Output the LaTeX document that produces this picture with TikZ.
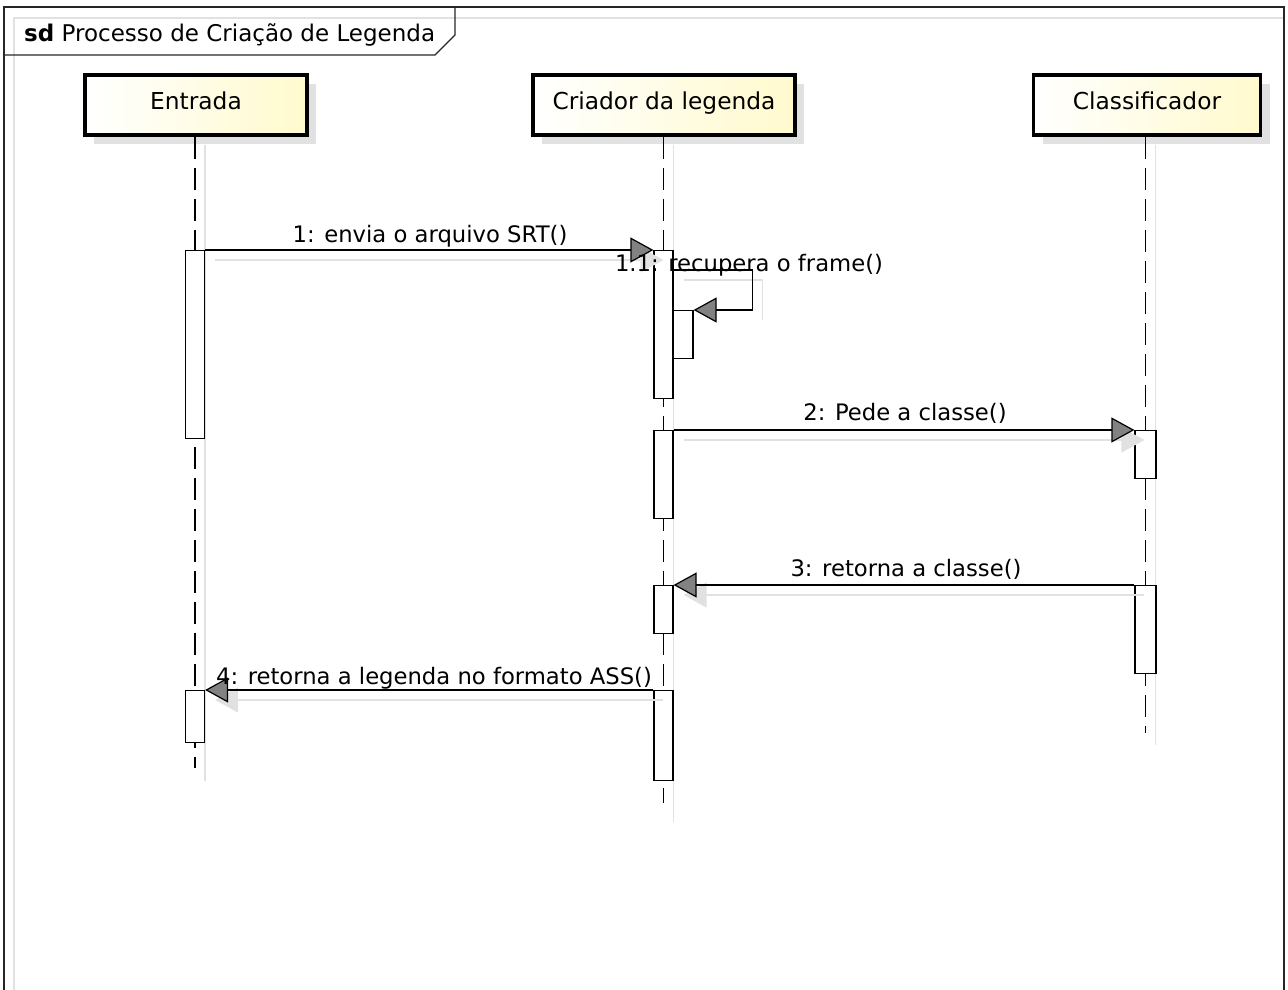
\documentclass[tikz,border=0pt]{standalone}
\usepackage{fontspec}
\setmainfont{DejaVu Sans}
\usetikzlibrary{arrows.meta,shadows,calc}
\definecolor{headfill}{RGB}{255,250,205}
\definecolor{shadowgray}{RGB}{225,225,225}
\definecolor{tipgray}{RGB}{130,130,130}
\tikzset{
  headbox/.style={draw=black, line width=3.5pt, left color=white, right color=headfill,
    minimum height=60pt, inner sep=0pt,
    drop shadow={shadow xshift=9pt, shadow yshift=-9pt, fill=shadowgray, opacity=1}},
  headtext/.style={inner sep=0pt, anchor=base, font=\fontsize{23.3}{27}\selectfont},
  actbox/.style={draw=black, line width=1.2pt, fill=white, minimum width=19pt, inner sep=0pt, anchor=north},
  lifeline/.style={draw=black, line width=1.7pt, dash pattern=on 22pt off 9pt},
  lifeshadow/.style={draw=shadowgray, line width=1.5pt},
  msg/.style={line width=1.4pt, -{Triangle[length=23pt,width=25pt,fill=tipgray,line width=1.2pt]}},
  msgshadow/.style={draw=shadowgray, line width=1.5pt, -{Triangle[length=23pt,width=25pt,fill=shadowgray,color=shadowgray]}},
  msglabel/.style={font=\fontsize{22.7}{26}\selectfont, inner sep=0pt, anchor=base}
}
\begin{document}
\begin{tikzpicture}[x=1pt,y=-1pt]
\useasboundingbox (0,0) rectangle (1288,990);
% frame
\draw[shadowgray, line width=1.5pt] (14,990) -- (14,18) -- (1284,18);
\draw[line width=1.6pt, black!85] (4,990) -- (4,7) -- (1284,7) -- (1284,990);
\draw[line width=1.4pt, black!85] (4,55) -- (435,55) -- (455,35) -- (455,7);
\node[anchor=base west, inner sep=0pt, font=\fontsize{23}{27}\selectfont] (title) at (24,42) {\textbf{sd} Processo de Criação de Legenda};

% lifeline heads
\node[headbox, minimum width=222pt] (ent) at (196,105) {};
\node[headbox, minimum width=262pt] (cri) at (664,105) {};
\node[headbox, minimum width=227pt] (cla) at (1147,105) {};
\node[headtext] (entT) at (196,109) {Entrada};
\node[headtext] (criT) at (664,109) {Criador da legenda};
\node[headtext] (claT) at (1147,109) {Classificador};

% lifeline ends
\coordinate (entEnd) at (195,768);
\coordinate (criEnd) at (663.5,803);
\coordinate (claEnd) at (1145.5,733);

% lifeline shadows
\draw[lifeshadow] (205,145) -- (205,781);
\draw[lifeshadow] (673.5,145) -- (673.5,822);
\draw[lifeshadow] (1155.5,145) -- (1155.5,745);

% lifelines
\draw[lifeline] (ent.south -| entEnd) -- (entEnd);
\draw[lifeline] (cri.south -| criEnd) -- (criEnd);
\draw[lifeline] (cla.south -| claEnd) -- (claEnd);

% activation boxes
\node[actbox, minimum height=188pt] (eA) at (195,250) {};
\node[actbox, minimum height=52pt] (eB) at (195,690) {};
\node[actbox, minimum height=148pt] (cA) at (663.5,250) {};
\node[actbox, minimum height=48pt, minimum width=20pt] (cS) at (683,310) {};
\node[actbox, minimum height=88pt] (cB) at (663.5,430) {};
\node[actbox, minimum height=48pt] (cC) at (663.5,585) {};
\node[actbox, minimum height=90pt] (cD) at (663.5,690) {};
\node[actbox, minimum height=48pt, minimum width=21pt] (kA) at (1145.5,430) {};
\node[actbox, minimum height=88pt, minimum width=21pt] (kB) at (1145.5,585) {};

% message shadows
\draw[msgshadow] ([shift={(10,10)}]eA.north east) -- ([shift={(10,10)}]cA.north west);
\draw[shadowgray, line width=1.5pt] ([shift={(10,10)}]cA.north east) ++(0,20) -- ++(79,0) -- ++(0,40);
\draw[msgshadow] ([shift={(10,10)}]cB.north east) -- ([shift={(10,10)}]kA.north west);
\draw[msgshadow] ([shift={(10,10)}]kB.north west) -- ([shift={(10,10)}]cC.north east);
\draw[msgshadow] ([shift={(10,10)}]cD.north west) -- ([shift={(10,10)}]eB.north east);

% messages
\draw[msg] (eA.north east) -- (cA.north west);
\draw[msg] (cA.north east) ++(0,20) -- ++(79,0) |- (cS.north east);
\draw[msg] (cB.north east) -- (kA.north west);
\draw[msg] (kB.north west) -- (cC.north east);
\draw[msg] (cD.north west) -- (eB.north east);

% labels
\node[msglabel] (l1) at (430,242) {1: envia o arquivo SRT()};
\node[msglabel] (l11) at (749,271) {1.1: recupera o frame()};
\node[msglabel] (l2) at (905,420) {2: Pede a classe()};
\node[msglabel] (l3) at (906,576) {3: retorna a classe()};
\node[msglabel] (l4) at (434,684) {4: retorna a legenda no formato ASS()};
\end{tikzpicture}
\end{document}
